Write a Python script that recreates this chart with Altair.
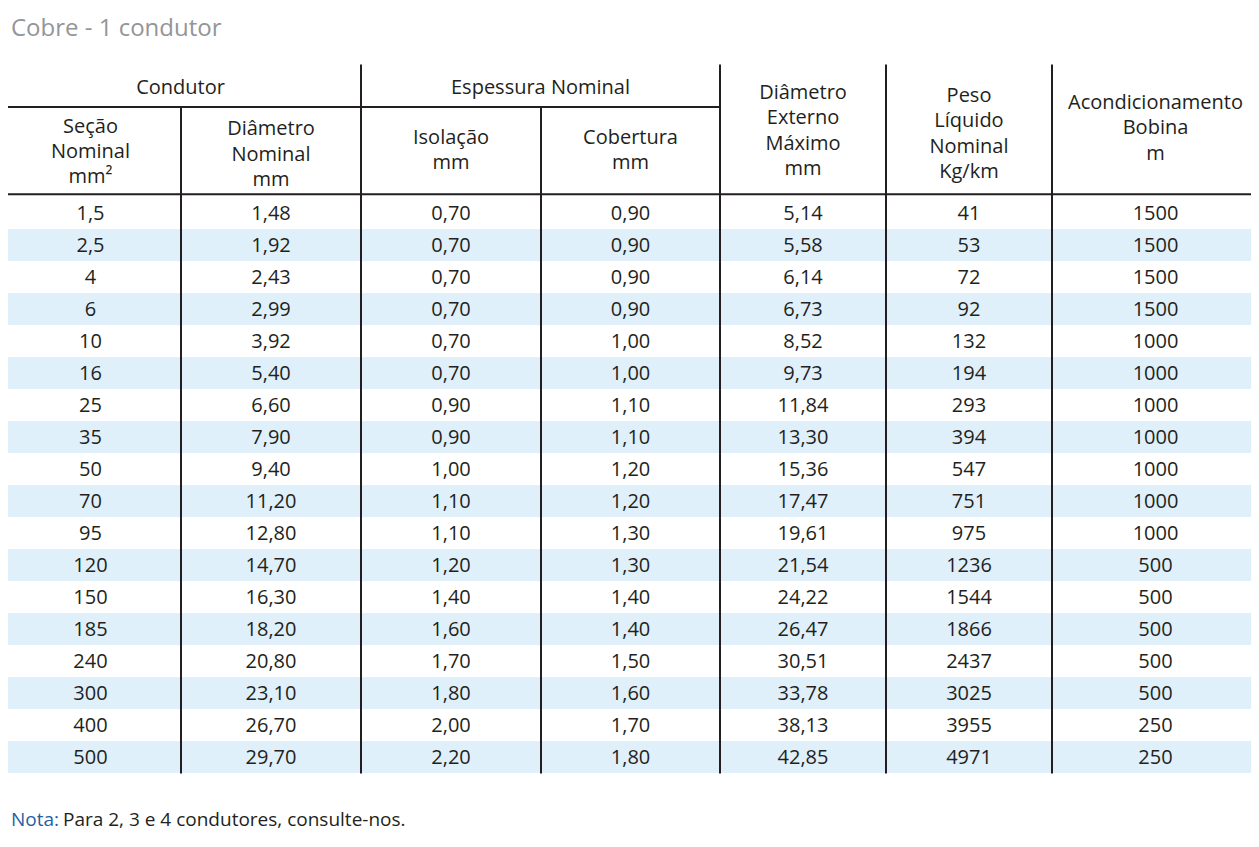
import altair as alt
import pandas as pd

# ---------------- data ----------------
title_text = "Cobre - 1 condutor"
nota_label = "Nota:"
nota_text = "Para 2, 3 e 4 condutores, consulte-nos."

group_headers = ["Condutor", "Espessura Nominal"]
column_headers = [
    ["Seção", "Nominal", "mm²"],
    ["Diâmetro", "Nominal", "mm"],
    ["Isolação", "mm"],
    ["Cobertura", "mm"],
    ["Diâmetro", "Externo", "Máximo", "mm"],
    ["Peso", "Líquido", "Nominal", "Kg/km"],
    ["Acondicionamento", "Bobina", "m"],
]

secao = [1.5, 2.5, 4, 6, 10, 16, 25, 35, 50, 70, 95, 120, 150, 185, 240, 300, 400, 500]
diam_nominal = [1.48, 1.92, 2.43, 2.99, 3.92, 5.40, 6.60, 7.90, 9.40, 11.20, 12.80,
                14.70, 16.30, 18.20, 20.80, 23.10, 26.70, 29.70]
isolacao = [0.70, 0.70, 0.70, 0.70, 0.70, 0.70, 0.90, 0.90, 1.00, 1.10, 1.10,
            1.20, 1.40, 1.60, 1.70, 1.80, 2.00, 2.20]
cobertura = [0.90, 0.90, 0.90, 0.90, 1.00, 1.00, 1.10, 1.10, 1.20, 1.20, 1.30,
             1.30, 1.40, 1.40, 1.50, 1.60, 1.70, 1.80]
diam_externo = [5.14, 5.58, 6.14, 6.73, 8.52, 9.73, 11.84, 13.30, 15.36, 17.47, 19.61,
                21.54, 24.22, 26.47, 30.51, 33.78, 38.13, 42.85]
peso = [41, 53, 72, 92, 132, 194, 293, 394, 547, 751, 975, 1236, 1544, 1866,
        2437, 3025, 3955, 4971]
bobina = [1500, 1500, 1500, 1500, 1000, 1000, 1000, 1000, 1000, 1000, 1000,
          500, 500, 500, 500, 500, 250, 250]

# ---------------- layout (reference pixel units) ----------------
X_DOMAIN = [8, 1251]
Y_DOMAIN = [5, 839]
col_edges = [0, 181, 361, 541, 720, 886, 1052, 1259]
group_spans = [(0, 361), (361, 720)]
group_baseline = 92
header_baselines = [
    [131, 156.5, 182],
    [133, 159, 185],
    [142, 167.5],
    [142, 167.5],
    [97, 122.5, 148, 173.5],
    [100, 125.5, 151, 176.5],
    [107, 132.5, 158],
]
header_top, group_line_y, header_bottom, table_bottom = 62, 105, 193, 778
row_top, row_h = 195.9, 32.3
text_drop = 7  # baseline below row centre
title_pos = (11, 33)
nota_label_pos = (11, 831)
nota_text_pos = (63, 831)

FONT = "Open Sans"
INK = "#231f20"
BAND = "#dff0fb"

# ---------------- build tables ----------------
def fmt(v, dec=None):
    s = f"{v:.{dec}f}" if dec is not None else f"{v:g}"
    return s.replace(".", ",")

columns = [
    [fmt(v) for v in secao],
    [fmt(v, 2) for v in diam_nominal],
    [fmt(v, 2) for v in isolacao],
    [fmt(v, 2) for v in cobertura],
    [fmt(v, 2) for v in diam_externo],
    [fmt(v) for v in peso],
    [fmt(v) for v in bobina],
]
n_rows = len(secao)
col_centers = [(col_edges[i] + col_edges[i + 1]) / 2 for i in range(len(col_edges) - 1)]

cells = []
for c, vals in enumerate(columns):
    for r, t in enumerate(vals):
        cells.append({"x": col_centers[c], "y": row_top + row_h * (r + 0.5) + text_drop, "t": t})
cells = pd.DataFrame(cells)

bands = pd.DataFrame([
    {"x": X_DOMAIN[0], "x2": X_DOMAIN[1], "y": row_top + row_h * r, "y2": row_top + row_h * (r + 1)}
    for r in range(n_rows) if r % 2 == 1
])

head = []
for (a, b), t in zip(group_spans, group_headers):
    head.append({"x": (a + b) / 2, "y": group_baseline, "t": t})
for c, lines in enumerate(column_headers):
    for t, yb in zip(lines, header_baselines[c]):
        head.append({"x": col_centers[c], "y": yb, "t": t})
head = pd.DataFrame(head)

vlines = pd.DataFrame([
    {"x": col_edges[1], "y": group_line_y, "y2": table_bottom},
    {"x": col_edges[2], "y": header_top, "y2": table_bottom},
    {"x": col_edges[3], "y": group_line_y, "y2": table_bottom},
    {"x": col_edges[4], "y": header_top, "y2": table_bottom},
    {"x": col_edges[5], "y": header_top, "y2": table_bottom},
    {"x": col_edges[6], "y": header_top, "y2": table_bottom},
])
hlines = pd.DataFrame([
    {"x": X_DOMAIN[0], "x2": col_edges[4], "y": group_line_y},
    {"x": X_DOMAIN[0], "x2": X_DOMAIN[1], "y": header_bottom},
])

title_df = pd.DataFrame([{"x": title_pos[0], "y": title_pos[1], "t": title_text}])
nota_lab_df = pd.DataFrame([{"x": nota_label_pos[0], "y": nota_label_pos[1], "t": nota_label}])
nota_df = pd.DataFrame([{"x": nota_text_pos[0], "y": nota_text_pos[1], "t": nota_text}])

# ---------------- chart ----------------
xs = alt.Scale(domain=X_DOMAIN, nice=False, zero=False)
ys = alt.Scale(domain=Y_DOMAIN, nice=False, zero=False, reverse=True)

def X(f="x"):
    return alt.X(f"{f}:Q", scale=xs, axis=None)

def Y(f="y"):
    return alt.Y(f"{f}:Q", scale=ys, axis=None)

band_layer = alt.Chart(bands).mark_rect(color=BAND).encode(
    x=X(), x2="x2:Q", y=Y(), y2="y2:Q")

vline_layer = alt.Chart(vlines).mark_rule(color=INK, strokeWidth=2).encode(
    x=X(), y=Y(), y2="y2:Q")
hline_layer = alt.Chart(hlines).mark_rule(color=INK, strokeWidth=2).encode(
    x=X(), x2="x2:Q", y=Y())

cell_layer = alt.Chart(cells).mark_text(
    font=FONT, fontSize=20, color=INK, align="center", baseline="alphabetic"
).encode(x=X(), y=Y(), text="t:N")

head_layer = alt.Chart(head).mark_text(
    font=FONT, fontSize=20, color=INK, align="center", baseline="alphabetic"
).encode(x=X(), y=Y(), text="t:N")

title_layer = alt.Chart(title_df).mark_text(
    font=FONT, fontSize=24, color="#939598", align="left", baseline="alphabetic"
).encode(x=X(), y=Y(), text="t:N")

nota_lab_layer = alt.Chart(nota_lab_df).mark_text(
    font=FONT, fontSize=19, color="#1f5fa6", align="left", baseline="alphabetic"
).encode(x=X(), y=Y(), text="t:N")

nota_layer = alt.Chart(nota_df).mark_text(
    font=FONT, fontSize=19, color=INK, align="left", baseline="alphabetic"
).encode(x=X(), y=Y(), text="t:N")

chart = alt.layer(
    band_layer, vline_layer, hline_layer, cell_layer, head_layer,
    title_layer, nota_lab_layer, nota_layer
).properties(
    width=1243, height=826, padding=0, background="white",
    autosize=alt.AutoSizeParams(type="none"),
).configure_view(stroke=None)

chart.save("out.html", embed_options={"renderer": "svg", "actions": False})
